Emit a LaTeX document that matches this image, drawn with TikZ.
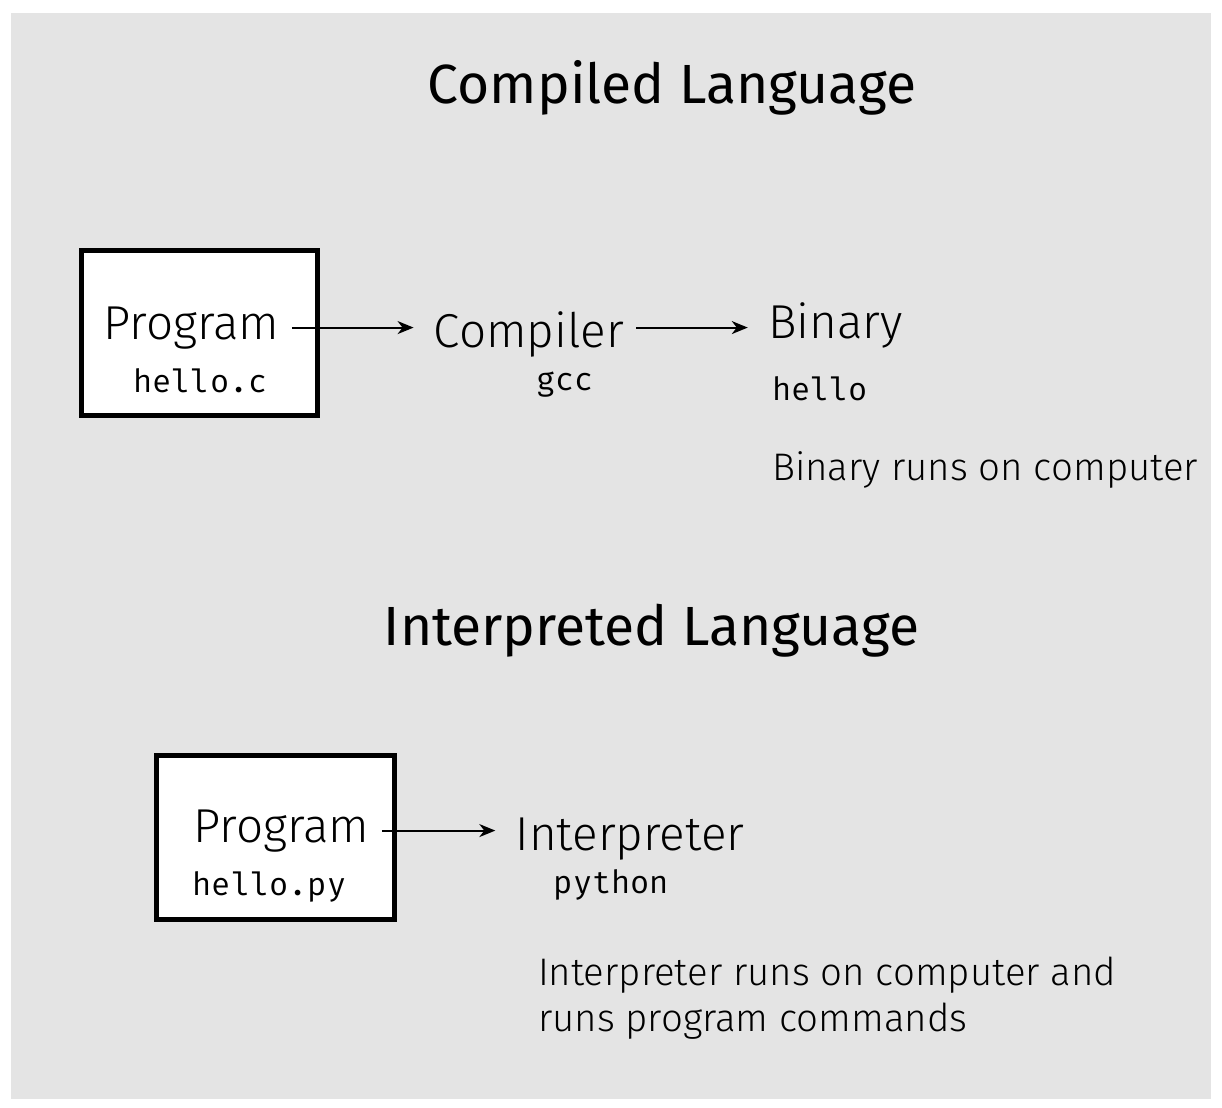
\documentclass[tikz,border=0pt]{standalone}
\usepackage{fontspec}
\setmainfont{Fira Sans Light}
\newfontfamily\headfont{Fira Sans}
\setmonofont{Fira Mono}
\usetikzlibrary{arrows.meta}
\definecolor{bggray}{HTML}{E4E4E4}
\tikzset{
  progbox/.style={draw, line width=2.5pt, fill=white, minimum width=118pt, minimum height=82.5pt},
  heading/.style={anchor=base, font=\headfont\fontsize{27.6}{33}\selectfont},
  word/.style={anchor=base, inner sep=6pt, font=\fontsize{23.8}{29}\selectfont},
  code/.style={anchor=base, font=\ttfamily\fontsize{16}{19}\selectfont},
  note/.style={font=\fontsize{19.2}{23}\selectfont, align=left},
  arrow/.style={-{Stealth[length=8pt,width=6.5pt,inset=2.5pt]}, line width=1pt, shorten >=4pt}
}
\begin{document}
\begin{tikzpicture}[x=0.5pt, y=-0.5pt]
\useasboundingbox (0,0) rectangle (1222,1108);
\fill[bggray] (11,13) rectangle (1211,1099);

% compiled
\node[heading] (title1) at (672,103) {Compiled Language};
\node[progbox] (box1) at (199.5,332.5) {};
\node[word] (prog1) at (191.5,339) {Program};
\node[code] (src1) at (200.5,392) {hello.c};
\node[word] (comp) at (529,347) {Compiler};
\node[code] (gcc) at (565,390) {gcc};
\node[word] (bin) at (835.5,338) {Binary};
\node[code] (exe) at (820,400) {hello};
\node[note, anchor=base west] (binnote) at (765,480) {Binary runs on computer};
\draw[arrow] (prog1.east) -- (prog1.east -| comp.west);
\draw[arrow] (comp.east |- prog1.east) -- (prog1.east -| bin.west);

% interpreted
\node[heading] (title2) at (651.5,645) {Interpreted Language};
\node[progbox, minimum width=119pt, minimum height=82pt] (box2) at (275.5,837.5) {};
\node[word] (prog2) at (281.5,842) {Program};
\node[code] (src2) at (269.5,895) {hello.py};
\node[word] (interp) at (630,850) {Interpreter};
\node[code] (py) at (611.5,893) {python};
\node[note, anchor=north west] (interpnote) at (531,950) {Interpreter runs on computer and\\runs program commands};
\draw[arrow] (prog2.east) -- (prog2.east -| interp.west);

\end{tikzpicture}
\end{document}
